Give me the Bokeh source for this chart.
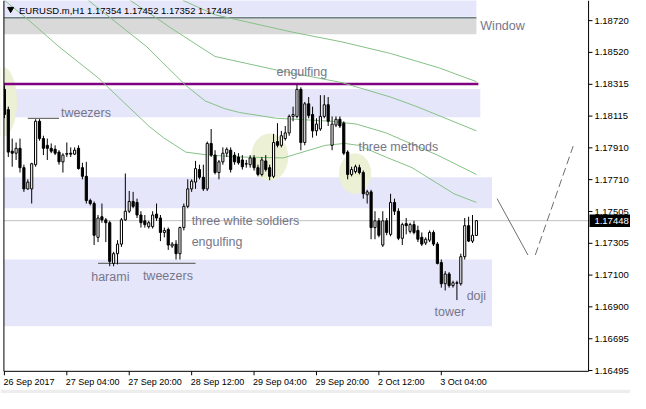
from bokeh.plotting import figure
from bokeh.models import ColumnDataSource
from bokeh.core.properties import value
from bokeh.embed import file_html
from bokeh.resources import INLINE

# ---------------- data ----------------
opens = [1.18283, 1.18154, 1.17890, 1.17877, 1.17908, 1.17785, 1.17650, 1.17650, 1.17804, 1.18080,
         1.17970, 1.17927, 1.17908, 1.17902, 1.17884, 1.17822, 1.17874, 1.17877, 1.17871, 1.17908,
         1.17785, 1.17730, 1.17576, 1.17557, 1.17342, 1.17473, 1.17453, 1.17435, 1.17176, 1.17238,
         1.17299, 1.17453, 1.17508, 1.17570, 1.17564, 1.17484, 1.17447, 1.17410, 1.17410, 1.17490,
         1.17465, 1.17373, 1.17392, 1.17287, 1.17299, 1.17238, 1.17404, 1.17539, 1.17650, 1.17693,
         1.17773, 1.17724, 1.17650, 1.17939, 1.17865, 1.17754, 1.17822, 1.17877, 1.17896, 1.17865,
         1.17853, 1.17834, 1.17810, 1.17804, 1.17847, 1.17785, 1.17742, 1.17828, 1.17785, 1.17730,
         1.17951, 1.17927, 1.17970, 1.18006, 1.18111, 1.18111, 1.18283, 1.17945, 1.18191, 1.18123,
         1.18019, 1.18031, 1.18111, 1.18185, 1.17927, 1.18056, 1.18093, 1.18068, 1.17884, 1.17742,
         1.17760, 1.17785, 1.17754, 1.17613, 1.17631, 1.17404, 1.17447, 1.17293, 1.17447, 1.17361,
         1.17564, 1.17508, 1.17336, 1.17429, 1.17380, 1.17423, 1.17386, 1.17342, 1.17306, 1.17324,
         1.17373, 1.17299, 1.17182, 1.17047, 1.17109, 1.17035, 1.17053, 1.17047, 1.17219, 1.17416,
         1.17318, 1.17354]
highs = [1.18308, 1.18173, 1.17970, 1.17945, 1.17970, 1.17804, 1.17711, 1.17816, 1.18093, 1.18093,
         1.17988, 1.17970, 1.17939, 1.17927, 1.17896, 1.17877, 1.17945, 1.17914, 1.17914, 1.17927,
         1.17816, 1.17822, 1.17588, 1.17570, 1.17484, 1.17557, 1.17465, 1.17447, 1.17250, 1.17324,
         1.17465, 1.17748, 1.17637, 1.17631, 1.17588, 1.17508, 1.17484, 1.17447, 1.17508, 1.17557,
         1.17484, 1.17404, 1.17404, 1.17312, 1.17324, 1.17410, 1.17557, 1.17711, 1.17711, 1.17828,
         1.17804, 1.17804, 1.17951, 1.18031, 1.17896, 1.17834, 1.17914, 1.17914, 1.17914, 1.17884,
         1.17877, 1.17865, 1.17834, 1.17865, 1.17865, 1.17804, 1.17853, 1.17865, 1.17804, 1.18000,
         1.18068, 1.18019, 1.18050, 1.18123, 1.18173, 1.18314, 1.18296, 1.18203, 1.18234, 1.18173,
         1.18099, 1.18246, 1.18246, 1.18234, 1.18111, 1.18111, 1.18111, 1.18080, 1.17896, 1.17791,
         1.17804, 1.17804, 1.17767, 1.17644, 1.17644, 1.17508, 1.17465, 1.17508, 1.17465, 1.17619,
         1.17588, 1.17527, 1.17435, 1.17465, 1.17435, 1.17447, 1.17416, 1.17373, 1.17342, 1.17386,
         1.17386, 1.17312, 1.17201, 1.17127, 1.17121, 1.17066, 1.17066, 1.17238, 1.17465, 1.17473,
         1.17484, 1.17452]
lows = [1.18099, 1.17853, 1.17791, 1.17834, 1.17754, 1.17631, 1.17644, 1.17557, 1.17791, 1.17957,
        1.17865, 1.17834, 1.17877, 1.17865, 1.17804, 1.17754, 1.17853, 1.17853, 1.17865, 1.17773,
        1.17711, 1.17557, 1.17545, 1.17293, 1.17312, 1.17435, 1.17312, 1.17158, 1.17158, 1.17170,
        1.17281, 1.17447, 1.17496, 1.17527, 1.17465, 1.17404, 1.17404, 1.17398, 1.17398, 1.17447,
        1.17318, 1.17342, 1.17262, 1.17275, 1.17201, 1.17201, 1.17386, 1.17527, 1.17631, 1.17650,
        1.17711, 1.17637, 1.17637, 1.17853, 1.17742, 1.17711, 1.17804, 1.17853, 1.17754, 1.17804,
        1.17804, 1.17773, 1.17785, 1.17785, 1.17767, 1.17730, 1.17730, 1.17760, 1.17705, 1.17718,
        1.17914, 1.17914, 1.17957, 1.17988, 1.18080, 1.18099, 1.17896, 1.17927, 1.18099, 1.17976,
        1.17988, 1.18019, 1.18099, 1.18050, 1.17896, 1.18043, 1.18037, 1.17865, 1.17711, 1.17730,
        1.17748, 1.17742, 1.17588, 1.17557, 1.17330, 1.17330, 1.17342, 1.17281, 1.17355, 1.17349,
        1.17484, 1.17324, 1.17293, 1.17361, 1.17367, 1.17361, 1.17312, 1.17287, 1.17293, 1.17312,
        1.17287, 1.17170, 1.17022, 1.17004, 1.17022, 1.17022, 1.16943, 1.17035, 1.17201, 1.17312,
        1.17306, 1.17352]
closes = [1.18123, 1.17884, 1.17877, 1.17908, 1.17785, 1.17650, 1.17693, 1.17810, 1.18080, 1.17970,
          1.17908, 1.17908, 1.17890, 1.17877, 1.17822, 1.17865, 1.17871, 1.17871, 1.17896, 1.17779,
          1.17730, 1.17576, 1.17557, 1.17355, 1.17465, 1.17453, 1.17435, 1.17189, 1.17238, 1.17299,
          1.17453, 1.17508, 1.17570, 1.17539, 1.17484, 1.17435, 1.17423, 1.17435, 1.17484, 1.17465,
          1.17373, 1.17386, 1.17293, 1.17299, 1.17238, 1.17404, 1.17539, 1.17650, 1.17699, 1.17779,
          1.17724, 1.17650, 1.17939, 1.17865, 1.17754, 1.17822, 1.17877, 1.17902, 1.17773, 1.17822,
          1.17816, 1.17791, 1.17808, 1.17847, 1.17785, 1.17742, 1.17834, 1.17773, 1.17730, 1.17945,
          1.17927, 1.17988, 1.18006, 1.18111, 1.18123, 1.18283, 1.17945, 1.18191, 1.18117, 1.18019,
          1.18062, 1.18111, 1.18185, 1.18080, 1.18062, 1.18093, 1.18050, 1.17877, 1.17742, 1.17773,
          1.17791, 1.17754, 1.17619, 1.17631, 1.17404, 1.17447, 1.17355, 1.17447, 1.17373, 1.17564,
          1.17508, 1.17336, 1.17423, 1.17416, 1.17423, 1.17373, 1.17330, 1.17299, 1.17330, 1.17373,
          1.17299, 1.17176, 1.17047, 1.17109, 1.17035, 1.17053, 1.17050, 1.17219, 1.17416, 1.17318,
          1.17355, 1.17448]
bars = list(range(len(opens)))

title_text = "EURUSD.m,H1  1.17354 1.17452 1.17352 1.17448"
last_price = 1.17448
last_price_text = "1.17448"

x_tick_bars = [0, 16, 32, 48, 64, 80, 96, 112]
x_tick_labels = ["26 Sep 2017", "27 Sep 04:00", "27 Sep 20:00", "28 Sep 12:00",
                 "29 Sep 04:00", "29 Sep 20:00", "2 Oct 12:00", "3 Oct 04:00"]
y_tick_values = [1.18720, 1.18518, 1.18315, 1.18113, 1.17911, 1.17709,
                 1.17506, 1.17304, 1.17102, 1.16900, 1.16697, 1.16495]
y_tick_labels = ["1.18720", "1.18520", "1.18315", "1.18115", "1.17910", "1.17710",
                 "1.17505", "1.17305", "1.17100", "1.16900", "1.16695", "1.16495"]

# moving-average lines (bar, price)
ma1_x = [45.75, 54, 74, 86.5, 99, 111.5, 121]
ma1_y = [1.18849, 1.18757, 1.18646, 1.18585, 1.18511, 1.18419, 1.18332]
ma2_x = [32.25, 43.25, 54, 69.75, 86.5, 99, 105.75, 121]
ma2_y = [1.18849, 1.18664, 1.18492, 1.18406, 1.18326, 1.18234, 1.18173, 1.18019]
ma3_x = [21.5, 36.5, 46.5, 51.5, 56.5, 60.25, 69.75, 84, 90.25, 97.75, 111, 121]
ma3_y = [1.18849, 1.18554, 1.18308, 1.18209, 1.18160, 1.18136, 1.18099, 1.18080,
         1.18062, 1.18007, 1.17865, 1.17742]
ma4_x = [0, 5.25, 14, 24, 30.25, 37, 40.75, 46.5, 52.25, 60.25, 71.5, 82.25, 87.25,
         90.75, 97.75, 104.5, 115.25, 121]
ma4_y = [1.18849, 1.18744, 1.18554, 1.18357, 1.18209, 1.18050, 1.17976, 1.17884, 1.17865,
         1.17853, 1.17847, 1.17927, 1.17939, 1.17927, 1.17853, 1.17785, 1.17619, 1.17564]

# zones (rectangles)
band_right = [121, 122, 125, 125]
band_top = [1.18870, 1.18285, 1.17724, 1.17201]
band_bottom = [1.18744, 1.18105, 1.17527, 1.16776]
window_right = 121
window_top = 1.18738
window_bottom = 1.18634
resistance_level = 1.18317
resistance_right = 121.5

# highlight ellipses
ell_x = [-0.5, 68, 89.9]
ell_y = [1.18203, 1.17853, 1.17748]
ell_w = [7.5, 9.5, 8.25]
ell_h = [0.00446, 0.00300, 0.00258]

# marker lines
tw_top_x = [6, 14]
tw_top_y = 1.18099
tw_bot_x = [24, 49]
tw_bot_y = 1.17176
proj_solid_x = [126.3, 134.2]
proj_solid_y = [1.17588, 1.17230]
proj_dash_x = [136.1, 145.8]
proj_dash_y = [1.17230, 1.17922]

# pattern labels
pat_text = ["tweezers", "engulfing", "three methods", "three white soldiers", "engulfing",
            "harami", "tweezers", "doji", "tower", "Window"]
pat_x = [14.5, 69.75, 90.75, 48, 48, 22.25, 35.5, 118.5, 110.25, 122]
pat_y = [1.18135, 1.18394, 1.17914, 1.17447, 1.17312, 1.17090, 1.17093, 1.16967, 1.16866, 1.18689]

# chart frame geometry (bar / price units)
X_MIN, X_MAX = -1.0, 160.5          # whole canvas
Y_MIN, Y_MAX = 1.16349, 1.18848     # whole canvas
CH_LEFT, CH_RIGHT = -0.125, 149.75  # chart area border
CH_BOTTOM = 1.16490
TICK_X = 1.0                        # right-axis tick length (bars)
TICK_Y = 0.00025                    # bottom-axis tick length (price)
X_LABEL_Y = 1.16422
Y_LABEL_X = 151.25
BOX_HALF = 0.00040

FONT = "Liberation Sans"
p = figure(width=630, height=393, x_range=(X_MIN, X_MAX), y_range=(Y_MIN, Y_MAX),
           x_axis_location=None, y_axis_location=None,
           output_backend="svg", toolbar_location=None,
           min_border_left=0, min_border_right=0, min_border_top=0, min_border_bottom=0)
p.grid.visible = False
p.outline_line_color = None
p.background_fill_color = "white"
p.border_fill_color = "white"

# zones
n_b = len(band_right)
p.quad(left=[CH_LEFT] * n_b, right=band_right, top=band_top, bottom=band_bottom,
       fill_color="#E6E6FA", line_color=None)
p.quad(left=[CH_LEFT], right=[window_right], top=[window_top], bottom=[window_bottom],
       fill_color="#D9D9D9", line_color=None)
p.segment(x0=[CH_LEFT], y0=[window_top], x1=[window_right], y1=[window_top],
          line_color="#2F4F4F", line_width=1)

# ellipses
p.ellipse(x=ell_x, y=ell_y, width=ell_w, height=ell_h, fill_color="#ECF0D4", line_color=None)

# current price line
p.segment(x0=[CH_LEFT], y0=[last_price], x1=[CH_RIGHT], y1=[last_price],
          line_color="#C0C0C0", line_width=1)

# resistance line
p.segment(x0=[CH_LEFT], y0=[resistance_level], x1=[resistance_right], y1=[resistance_level],
          line_color="#800080", line_width=2.4)

# moving averages
for mx, my in [(ma1_x, ma1_y), (ma2_x, ma2_y), (ma3_x, ma3_y), (ma4_x, ma4_y)]:
    p.line(mx, my, line_color="#86C186", line_width=1)

# pattern marker lines
p.line(tw_top_x, [tw_top_y, tw_top_y], line_color="#6E6E6E", line_width=1.2)
p.line(tw_bot_x, [tw_bot_y, tw_bot_y], line_color="#6E6E6E", line_width=1.2)
p.line(proj_solid_x, proj_solid_y, line_color="#6E6E6E", line_width=1)
p.line(proj_dash_x, proj_dash_y, line_color="#6E6E6E", line_width=1, line_dash="8 4")

# candles
src = ColumnDataSource(dict(
    x=bars,
    top=[max(o, c) for o, c in zip(opens, closes)],
    bottom=[min(o, c) for o, c in zip(opens, closes)],
    fill=["white" if c >= o else "black" for o, c in zip(opens, closes)],
    high=highs, low=lows,
))
p.segment(x0="x", y0="high", x1="x", y1="low", source=src, line_color="black", line_width=1)
p.vbar(x="x", width=0.55, top="top", bottom="bottom", source=src,
       fill_color="fill", line_color="black", line_width=1)

# mask outside the chart area on the left, right and bottom
p.quad(left=[X_MIN], right=[CH_LEFT], top=[Y_MAX], bottom=[Y_MIN], fill_color="white", line_color=None)
p.quad(left=[CH_RIGHT], right=[X_MAX], top=[Y_MAX], bottom=[Y_MIN], fill_color="white", line_color=None)
p.quad(left=[X_MIN], right=[X_MAX], top=[CH_BOTTOM], bottom=[Y_MIN], fill_color="white", line_color=None)
p.quad(left=[X_MIN], right=[X_MAX], top=[1.16373], bottom=[Y_MIN], fill_color="#EDEDED", line_color=None)

# chart border and axes
p.segment(x0=[CH_LEFT, CH_LEFT, CH_RIGHT], y0=[Y_MAX, CH_BOTTOM, Y_MAX],
          x1=[CH_LEFT, CH_RIGHT, CH_RIGHT], y1=[CH_BOTTOM, CH_BOTTOM, CH_BOTTOM],
          line_color="black", line_width=1)
# right price axis
p.segment(x0=[CH_RIGHT] * len(y_tick_values), y0=y_tick_values,
          x1=[CH_RIGHT + TICK_X] * len(y_tick_values), y1=y_tick_values,
          line_color="black", line_width=1)
p.text(x=[Y_LABEL_X] * len(y_tick_values), y=y_tick_values, text=y_tick_labels,
       text_font=value(FONT), text_font_size=value("9.5px"), text_color="black",
       text_align="left", text_baseline="middle")
# bottom time axis
p.segment(x0=x_tick_bars, y0=[CH_BOTTOM] * len(x_tick_bars),
          x1=x_tick_bars, y1=[CH_BOTTOM - TICK_Y] * len(x_tick_bars),
          line_color="black", line_width=1)
p.text(x=[b - 0.25 for b in x_tick_bars], y=[X_LABEL_Y] * len(x_tick_bars), text=x_tick_labels,
       text_font=value(FONT), text_font_size=value("9px"), text_color="black",
       text_align="left", text_baseline="middle")

# current price box
p.quad(left=[CH_RIGHT + 0.25], right=[X_MAX], top=[last_price + BOX_HALF],
       bottom=[last_price - BOX_HALF], fill_color="black", line_color=None)
p.text(x=[Y_LABEL_X], y=[last_price], text=[last_price_text],
       text_font=value(FONT), text_font_size=value("9.5px"), text_color="white",
       text_align="left", text_baseline="middle")

# pattern labels
p.text(x=pat_x, y=pat_y, text=pat_text, text_font=value(FONT), text_font_size=value("12.5px"),
       text_color="#76768A", text_align="left", text_baseline="middle")

# title
p.scatter(x=[1.6], y=[1.18793], marker="inverted_triangle", size=6, color="black")
p.text(x=[3.75], y=[1.18787], text=[title_text], text_font=value(FONT),
       text_font_size=value("9.5px"), text_color="black", text_align="left",
       text_baseline="middle")

open("out.html", "w").write(file_html(p, INLINE))
